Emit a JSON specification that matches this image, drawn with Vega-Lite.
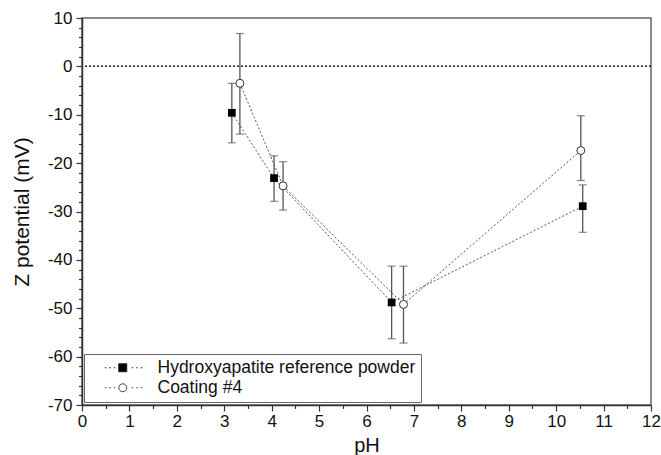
{
  "$schema": "https://vega.github.io/schema/vega-lite/v6.json",
  "autosize": "none",
  "width": 569,
  "height": 387,
  "padding": {"left": 82, "top": 18, "right": 10, "bottom": 50},
  "background": "white",
  "config": {
    "font": "Liberation Sans",
    "view": {"stroke": "#666", "strokeWidth": 1.5},
    "axis": {"grid": false, "domainColor": "#333", "tickColor": "#333", "labelColor": "#111", "titleColor": "#111", "labelFont": "Liberation Sans", "titleFont": "Liberation Sans", "titleFontWeight": "normal", "domainWidth": 1.5, "tickWidth": 1.2},
    "legend": {"labelFont": "Liberation Sans", "labelFontSize": 17.5, "labelColor": "#111", "labelLimit": 0}
  },
  "data": {"values": [
    {"series": "Hydroxyapatite reference powder", "pH": 3.16, "z": -9.6, "lo": -15.8, "hi": -3.5},
    {"series": "Hydroxyapatite reference powder", "pH": 4.05, "z": -23.1, "lo": -27.9, "hi": -18.5},
    {"series": "Hydroxyapatite reference powder", "pH": 6.53, "z": -48.8, "lo": -56.3, "hi": -41.3},
    {"series": "Hydroxyapatite reference powder", "pH": 10.56, "z": -28.9, "lo": -34.3, "hi": -24.5},
    {"series": "Coating #4", "pH": 3.33, "z": -3.5, "lo": -14.0, "hi": 6.8},
    {"series": "Coating #4", "pH": 4.24, "z": -24.7, "lo": -29.7, "hi": -19.7},
    {"series": "Coating #4", "pH": 6.78, "z": -49.2, "lo": -57.2, "hi": -41.3},
    {"series": "Coating #4", "pH": 10.52, "z": -17.4, "lo": -23.6, "hi": -10.2}
  ]},
  "resolve": {"axis": {"x": "independent", "y": "independent"}},
  "layer": [
    {
      "mark": {"type": "rule", "color": "#333", "strokeWidth": 1, "strokeDash": [2, 2]},
      "encoding": {"y": {"datum": 0, "type": "quantitative", "scale": {"domain": [-70, 10]}, "axis": null}}
    },
    {
      "mark": {"type": "line", "color": "#555", "strokeWidth": 1, "strokeDash": [2, 2]},
      "encoding": {
        "x": {"field": "pH", "type": "quantitative", "scale": {"domain": [0, 12], "nice": false, "zero": false},
          "axis": {"orient": "bottom", "title": "pH", "values": [0,1,2,3,4,5,6,7,8,9,10,11,12], "tickSize": 6, "labelFontSize": 17, "labelPadding": 2, "titleFontSize": 20, "titlePadding": 6, "labelFlush": false}},
        "y": {"field": "z", "type": "quantitative", "scale": {"domain": [-70, 10], "nice": false, "zero": false},
          "axis": {"orient": "left", "title": "Z potential (mV)", "values": [-70,-60,-50,-40,-30,-20,-10,0,10], "labelExpr": "datum.value + ''", "tickSize": 6, "labelFontSize": 17, "labelPadding": 4, "titleFontSize": 21, "titlePadding": 15}},
        "detail": {"field": "series"}
      }
    },
    {
      "mark": {"type": "rule", "color": "#555", "strokeWidth": 1.3},
      "encoding": {
        "x": {"field": "pH", "type": "quantitative",
          "axis": {"orient": "bottom", "values": [0.5,1.5,2.5,3.5,4.5,5.5,6.5,7.5,8.5,9.5,10.5,11.5], "tickSize": 3.5, "labels": false, "domain": false, "title": null}},
        "y": {"field": "lo", "type": "quantitative",
          "axis": {"orient": "left", "values": [-68,-66,-64,-62,-58,-56,-54,-52,-48,-46,-44,-42,-38,-36,-34,-32,-28,-26,-24,-22,-18,-16,-14,-12,-8,-6,-4,-2,2,4,6,8], "tickSize": 3.5, "labels": false, "domain": false, "title": null}},
        "y2": {"field": "hi"}
      }
    },
    {
      "mark": {"type": "tick", "orient": "horizontal", "color": "#555", "size": 8, "thickness": 1.2},
      "encoding": {
        "x": {"field": "pH", "type": "quantitative", "axis": null},
        "y": {"field": "lo", "type": "quantitative", "axis": null}
      }
    },
    {
      "mark": {"type": "tick", "orient": "horizontal", "color": "#555", "size": 8, "thickness": 1.2},
      "encoding": {
        "x": {"field": "pH", "type": "quantitative", "axis": null},
        "y": {"field": "hi", "type": "quantitative", "axis": null}
      }
    },
    {
      "transform": [{"filter": "datum.series === 'Hydroxyapatite reference powder'"}],
      "mark": {"type": "point", "shape": "square", "filled": true, "color": "#000", "size": 60, "opacity": 1},
      "encoding": {
        "x": {"field": "pH", "type": "quantitative", "axis": null},
        "y": {"field": "z", "type": "quantitative", "axis": null}
      }
    },
    {
      "transform": [{"filter": "datum.series === 'Coating #4'"}],
      "mark": {"type": "point", "shape": "circle", "filled": false, "fill": "#fff", "stroke": "#333", "strokeWidth": 1, "size": 64, "opacity": 1},
      "encoding": {
        "x": {"field": "pH", "type": "quantitative", "axis": null},
        "y": {"field": "z", "type": "quantitative", "axis": null}
      }
    },
    {
      "mark": {"type": "point", "opacity": 0, "strokeWidth": 1},
      "encoding": {
        "x": {"field": "pH", "type": "quantitative", "axis": null},
        "y": {"field": "z", "type": "quantitative", "axis": null},
        "shape": {"field": "series", "type": "nominal",
          "scale": {"domain": ["Hydroxyapatite reference powder", "Coating #4"],
            "range": [
              "M1.4,0h0.3M2.3,0h0.3M3.2,0h0.3M4.2,-0.8h1.6v1.6h-1.6zM6.8,0h0.3M7.7,0h0.3M8.6,0h0.3",
              "M1.4,0h0.3M2.3,0h0.3M3.2,0h0.3M5.8,0A0.8,0.8 0 1,1 4.2,0A0.8,0.8 0 1,1 5.8,0ZM6.8,0h0.3M7.7,0h0.3M8.6,0h0.3"
            ]},
          "legend": {"title": null, "orient": "none", "legendX": 2, "legendY": 336, "strokeColor": "#666", "fillColor": "#fff", "padding": 5, "symbolSize": 100, "labelOffset": 51, "rowPadding": 1, "symbolOpacity": 1, "symbolStrokeWidth": 1}},
        "fill": {"field": "series", "type": "nominal", "scale": {"domain": ["Hydroxyapatite reference powder", "Coating #4"], "range": ["#000", "#fff"]}},
        "stroke": {"field": "series", "type": "nominal", "scale": {"domain": ["Hydroxyapatite reference powder", "Coating #4"], "range": ["#222", "#444"]}}
      }
    }
  ]
}
